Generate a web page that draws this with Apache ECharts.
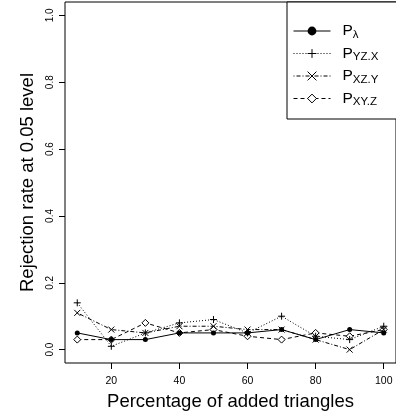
<!DOCTYPE html>
<html><head><meta charset="utf-8">
<script src="https://cdn.jsdelivr.net/npm/echarts@6/dist/echarts.min.js"></script>
<style>html,body{margin:0;padding:0;background:#fff}#c{width:396px;height:419px}</style>
</head><body><div id="c"></div>
<script>
const xValues = [10,20,30,40,50,60,70,80,90,100];
const pLambda = [0.05,0.03,0.03,0.05,0.05,0.05,0.06,0.03,0.06,0.05];
const pYZX    = [0.14,0.01,0.05,0.08,0.09,0.05,0.10,0.04,0.03,0.07];
const pXZY    = [0.11,0.06,0.05,0.07,0.07,0.06,0.06,0.03,0.00,0.06];
const pXYZ    = [0.03,0.03,0.08,0.05,0.06,0.04,0.03,0.05,0.04,0.06];
const xTicks = [20,40,60,80,100];
const yTicks = [0,0.2,0.4,0.6,0.8,1.0];
const seriesNames = ['P\u03bb','PYZ.X','PXZ.Y','PXY.Z'];

const FONT = 'Liberation Sans, Arial, sans-serif';
const pair = arr => xValues.map((x,i)=>[x,arr[i]]);
const PLUS = 'path://M0,5L10,5M5,0L5,10';
const CROSS = 'path://M0,0L10,10M10,0L0,10';

const chart = echarts.init(document.getElementById('c'), null, {renderer:'canvas'});
chart.setOption({
  animation:false,
  backgroundColor:'#fff',
  textStyle:{fontFamily:FONT},
  grid:{left:65, top:2, width:336, height:361, show:true, borderColor:'#000', borderWidth:1, backgroundColor:'transparent'},
  xAxis:{type:'value', min:6.4, max:103.6,
    name:'Percentage of added triangles', nameLocation:'middle', nameGap:29,
    nameTextStyle:{fontSize:18.5, color:'#000', fontFamily:FONT},
    axisLine:{show:false, onZero:false}, splitLine:{show:false},
    axisTick:{show:true, length:6, customValues:xTicks, lineStyle:{color:'#000'}},
    axisLabel:{customValues:xTicks, fontSize:10.5, color:'#000', margin:13, fontFamily:FONT}
  },
  yAxis:{type:'value', min:-0.04, max:1.04,
    name:'Rejection rate at 0.05 level', nameLocation:'middle', nameGap:22,
    nameTextStyle:{fontSize:18.5, color:'#000', fontFamily:FONT},
    axisLine:{show:false, onZero:false}, splitLine:{show:false},
    axisTick:{show:true, length:6, customValues:yTicks, lineStyle:{color:'#000'}},
    axisLabel:{customValues:yTicks, rotate:90, fontSize:10, color:'#000', margin:10, fontFamily:FONT,
      formatter:v=>v.toFixed(1)}
  },
  legend:{
    orient:'vertical', left:287, top:2,
    padding:[21,40,11,6],
    borderColor:'#000', borderWidth:1, backgroundColor:'#fff',
    itemWidth:37, itemHeight:11, itemGap:5,
    data:seriesNames,
    lineStyle:{width:1},
    itemStyle:{borderWidth:1},
    formatter:n=>'{p|P}{s|'+n.slice(1)+'}',
    textStyle:{color:'#000', fontFamily:FONT,
      rich:{
        p:{fontSize:15.5, padding:[0,0,0,7], fontFamily:FONT, color:'#000'},
        s:{fontSize:11.5, padding:[7,0,0,0], fontFamily:FONT, color:'#000'}
      }}
  },
  series:[
    {name:seriesNames[0], type:'line', data:pair(pLambda), symbol:'circle', symbolSize:5,
      lineStyle:{color:'#000', width:1, type:'solid'}, itemStyle:{color:'#000'}, z:5},
    {name:seriesNames[1], type:'line', data:pair(pYZX), symbol:PLUS, symbolSize:7,
      lineStyle:{color:'#000', width:1, type:[1,2]}, itemStyle:{color:'#000', borderColor:'#000', borderWidth:1}, z:4},
    {name:seriesNames[2], type:'line', data:pair(pXZY), symbol:CROSS, symbolSize:6,
      lineStyle:{color:'#000', width:1, type:[1,2,4,2]}, itemStyle:{color:'#000', borderColor:'#000', borderWidth:1}, z:3},
    {name:seriesNames[3], type:'line', data:pair(pXYZ), symbol:'diamond', symbolSize:7,
      lineStyle:{color:'#000', width:1, type:[4,3]}, itemStyle:{color:'#fff', borderColor:'#000', borderWidth:1}, z:2}
  ]
});
</script></body></html>
